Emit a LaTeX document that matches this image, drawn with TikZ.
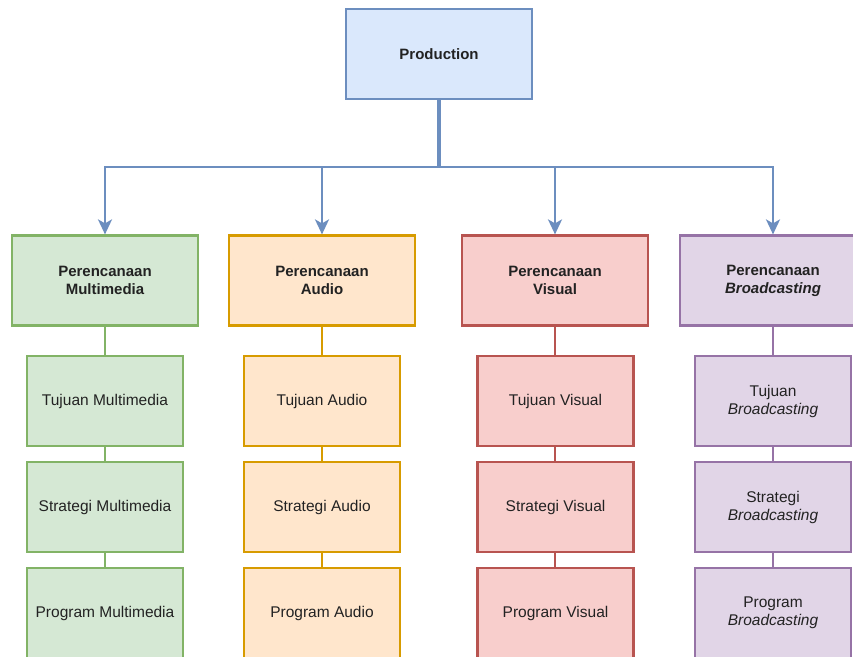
\documentclass[tikz,border=0pt]{standalone}
\usepackage{fontspec}
\setmainfont{Liberation Sans}
\usetikzlibrary{arrows.meta}
\definecolor{bfill}{HTML}{DAE8FC}\definecolor{bdraw}{HTML}{6C8EBF}
\definecolor{gfill}{HTML}{D5E8D4}\definecolor{gdraw}{HTML}{82B366}
\definecolor{ofill}{HTML}{FFE6CC}\definecolor{odraw}{HTML}{D79B00}
\definecolor{rfill}{HTML}{F8CECC}\definecolor{rdraw}{HTML}{B85450}
\definecolor{pfill}{HTML}{E1D5E7}\definecolor{pdraw}{HTML}{9673A6}
\definecolor{txt}{HTML}{222222}
\tikzset{
  box/.style={draw, line width=2.2pt, inner sep=0pt, align=center, text=txt},
  topbox/.style={box, minimum width=186pt, minimum height=90pt, font=\fontsize{15}{18}\selectfont\bfseries},
  subbox/.style={box, minimum width=156pt, minimum height=90pt, font=\fontsize{15.5}{18}\selectfont},
  gbox/.style={fill=gfill, draw=gdraw}, obox/.style={fill=ofill, draw=odraw},
  rbox/.style={fill=rfill, draw=rdraw}, pbox/.style={fill=pfill, draw=pdraw},
  arr/.style={draw=bdraw, line width=2.2pt, -{Stealth[length=15pt,width=14pt,inset=4pt]}},
  trunk/.style={draw=bdraw, line width=4pt},
  cline/.style={line width=2.2pt}
}
\begin{document}
\begin{tikzpicture}[x=1pt,y=1pt]
\useasboundingbox (0,0) rectangle (853,-656);
\clip (0,0) rectangle (853,-656);
\coordinate (hy) at (0,-167);
\node[topbox, fill=bfill, draw=bdraw] (P) at (439,-54) {Production};
\node[topbox, gbox] (m1) at (105,-280.5) {Perencanaan\\Multimedia};
\node[topbox, obox] (a1) at (322,-280.5) {Perencanaan\\Audio};
\node[topbox, rbox] (v1) at (555,-280.5) {Perencanaan\\Visual};
\node[topbox, pbox] (b1) at (773,-280.5) {Perencanaan\\\textit{Broadcasting}};
\foreach \n in {m1,a1,v1,b1}{
  \draw[arr] (P.south) -- (P.south |- hy) -| (\n.north);
}
\draw[trunk] (P.south) -- (P.south |- hy);
% column lines
\draw[cline, gdraw] (m1.south) -- (105,-570);
\draw[cline, odraw] (a1.south) -- (322,-570);
\draw[cline, rdraw] (v1.south) -- (555,-570);
\draw[cline, pdraw] (b1.south) -- (773,-570);
% level 2
\node[subbox, gbox] (m2) at (105,-401) {Tujuan Multimedia};
\node[subbox, gbox] (m3) at (105,-507) {Strategi Multimedia};
\node[subbox, gbox] (m4) at (105,-613) {Program Multimedia};
\node[subbox, obox] (a2) at (322,-401) {Tujuan Audio};
\node[subbox, obox] (a3) at (322,-507) {Strategi Audio};
\node[subbox, obox] (a4) at (322,-613) {Program Audio};
\node[subbox, rbox] (v2) at (555.5,-401) {Tujuan Visual};
\node[subbox, rbox] (v3) at (555.5,-507) {Strategi Visual};
\node[subbox, rbox] (v4) at (555.5,-613) {Program Visual};
\node[subbox, pbox] (b2) at (773,-401) {Tujuan\\\textit{Broadcasting}};
\node[subbox, pbox] (b3) at (773,-507) {Strategi\\\textit{Broadcasting}};
\node[subbox, pbox] (b4) at (773,-613) {Program\\\textit{Broadcasting}};
\end{tikzpicture}
\end{document}
